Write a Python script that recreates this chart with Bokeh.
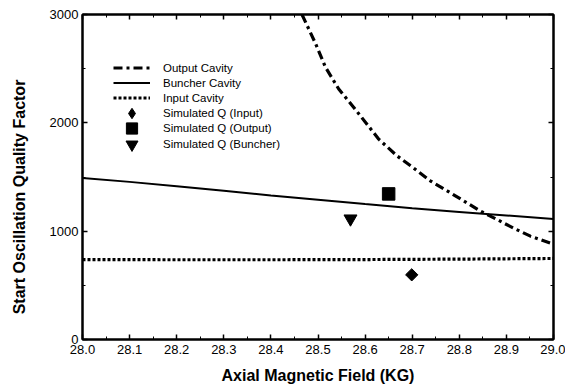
from bokeh.plotting import figure
from bokeh.models import (LinearAxis, Range1d, FixedTicker, CustomJSTickFormatter,
                          NumeralTickFormatter, Legend, LegendItem)
from bokeh.embed import file_html
from bokeh.resources import INLINE
import math

# ---- data ----
b_field = [28.0, 28.1, 28.2, 28.3, 28.4, 28.5, 28.6, 28.7, 28.8, 28.9, 29.0]
buncher_q = [1490, 1455, 1415, 1372, 1330, 1290, 1250, 1212, 1178, 1145, 1112]
input_q = [738, 737, 736, 736, 736, 737, 738, 740, 742, 745, 748]

output_b = [28.466, 28.495, 28.516, 28.544, 28.576, 28.629, 28.668, 28.703,
            28.739, 28.775, 28.81, 28.845, 28.88, 28.915, 28.951, 29.0]
output_q = [3000, 2729, 2512, 2312, 2142, 1849, 1694, 1583,
            1463, 1370, 1278, 1185, 1108, 1028, 954, 880]

sim_input_b, sim_input_q = [28.699], [597]
sim_output_b, sim_output_q = [28.650], [1344]
sim_buncher_b, sim_buncher_q = [28.569], [1115]

x_major = [28.0, 28.1, 28.2, 28.3, 28.4, 28.5, 28.6, 28.7, 28.8, 28.9, 29.0]
x_minor = [28.05, 28.15, 28.25, 28.35, 28.45, 28.55, 28.65, 28.75, 28.85, 28.95]
y_major = [0, 1000, 2000, 3000]
y_minor = [500, 1500, 2500]

x_title = "Axial Magnetic Field (KG)"
y_title = "Start Oscillation Quality Factor"

FONT = "Liberation Sans"

# trailing no-break spaces move the y title below the frame centre, as in the reference
p = figure(width=565, height=386, output_backend="svg", toolbar_location=None,
           x_range=Range1d(28.0, 29.0), y_range=Range1d(0, 3000),
           x_axis_label=x_title, y_axis_label=y_title + "\u00a0" * 9,
           min_border_left=82, min_border_right=12, min_border_top=14,
           min_border_bottom=47)
p.grid.visible = False
p.outline_line_color = "black"
p.outline_line_width = 2
p.background_fill_color = "white"
p.border_fill_color = "white"

def style_axis(ax, ticks, minor, labels=True):
    ax.ticker = FixedTicker(ticks=ticks, minor_ticks=minor)
    ax.axis_line_color = "black"
    ax.axis_line_width = 2
    ax.major_tick_in = 5
    ax.major_tick_out = 0
    ax.minor_tick_in = 3
    ax.minor_tick_out = 0
    ax.major_tick_line_width = 1.5
    ax.minor_tick_line_width = 1
    ax.major_label_text_font = FONT
    ax.major_label_text_font_size = "13px"
    ax.major_label_text_color = "black"
    ax.axis_label_text_font = FONT
    ax.axis_label_text_font_style = "bold"
    ax.axis_label_text_font_size = "16px"
    ax.axis_label_text_color = "black"
    if not labels:
        ax.formatter = CustomJSTickFormatter(code="return ''")
        ax.major_label_standoff = 0

style_axis(p.xaxis[0], x_major, x_minor)
style_axis(p.yaxis[0], y_major, y_minor)
p.xaxis[0].formatter = NumeralTickFormatter(format="0.0")
p.xaxis[0].major_label_standoff = 5
p.xaxis[0].axis_label_standoff = 10
p.yaxis[0].major_label_standoff = 4
p.yaxis[0].axis_label_standoff = 19

top = LinearAxis()
style_axis(top, x_major, x_minor, labels=False)
p.add_layout(top, "above")
right = LinearAxis()
style_axis(right, y_major, y_minor, labels=False)
p.add_layout(right, "right")

r_out = p.line(output_b, output_q, line_color="black", line_width=3.2,
               line_dash="9 4 3 4")
r_bun = p.line(b_field, buncher_q, line_color="black", line_width=2)
r_in = p.line(b_field, input_q, line_color="black", line_width=3.2,
              line_dash="3 2")
# plotted diamond: square rotated by 45 degrees (equal width and height)
p.scatter(sim_input_b, sim_input_q, marker="square", size=8.7,
          angle=math.pi / 4, color="black")
# legend sample for the diamond (hidden in the plot itself)
r_si = p.scatter(sim_input_b, sim_input_q, marker="diamond", size=12,
                 color="black", visible=False)
r_so = p.scatter(sim_output_b, sim_output_q, marker="square", size=12.5,
                 color="black")
r_sb = p.scatter(sim_buncher_b, sim_buncher_q, marker="inverted_triangle",
                 size=13, color="black")

def make_legend(items, loc, gh):
    lg = Legend(items=items, location=loc)
    lg.padding = 0
    lg.margin = 0
    lg.spacing = 0
    lg.glyph_width = 37
    lg.glyph_height = gh
    lg.label_height = 15
    lg.label_standoff = 13
    lg.label_text_font = FONT
    lg.label_text_font_size = "11.5px"
    lg.label_text_color = "black"
    lg.border_line_alpha = 0
    lg.background_fill_alpha = 0
    lg.inactive_fill_alpha = 0
    p.add_layout(lg, "center")

make_legend([
    LegendItem(label="Output Cavity", renderers=[r_out]),
    LegendItem(label="Buncher Cavity", renderers=[r_bun]),
    LegendItem(label="Input Cavity", renderers=[r_in]),
], (31, 234), 15)
make_legend([LegendItem(label="Simulated Q (Input)", renderers=[r_si])],
            (31, 213), 26)
make_legend([LegendItem(label="Simulated Q (Output)", renderers=[r_so])],
            (31, 197), 28)
make_legend([LegendItem(label="Simulated Q (Buncher)", renderers=[r_sb])],
            (31, 180), 30)

open("out.html", "w").write(file_html(p, INLINE))
